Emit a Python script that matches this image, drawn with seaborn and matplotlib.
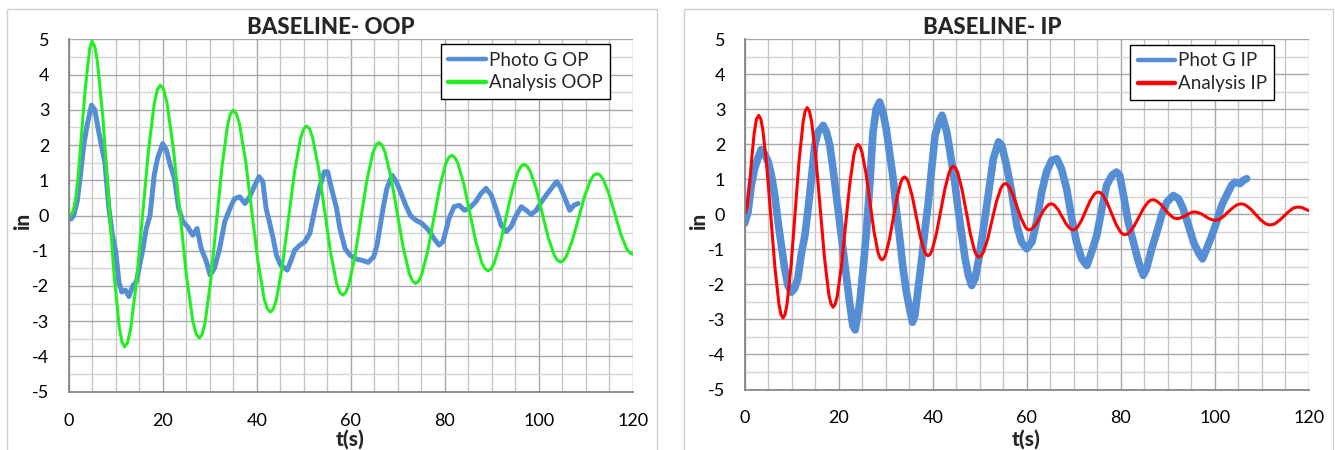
import matplotlib
matplotlib.use("Agg")
import matplotlib.pyplot as plt
from matplotlib import font_manager as fm
from matplotlib.ticker import MultipleLocator, FixedLocator
from matplotlib.patches import Rectangle
import seaborn as sns

# ---------------- data ----------------
# Left panel: Analysis OOP (green)
oop_an_t = [0, 0.5, 1.0, 1.5, 2.0, 2.5, 3.0, 3.5, 4.0, 4.5,
            4.95, 5.53, 6.11, 7.27, 8.43, 9.58, 10.74, 11.32,
            11.9, 12.53, 13.17, 14.43, 15.7, 16.97, 18.23, 18.87,
            19.5, 20.19, 20.88, 22.27, 23.65, 25.03, 26.42, 27.11,
            27.8, 28.4, 29.0, 30.2, 31.4, 32.6, 33.8, 34.4,
            35.0, 35.66, 36.32, 37.63, 38.95, 40.27, 41.58, 42.24,
            42.9, 43.54, 44.18, 45.47, 46.75, 48.03, 49.32, 49.96,
            50.6, 51.24, 51.88, 53.17, 54.45, 55.73, 57.02, 57.66,
            58.3, 58.94, 59.58, 60.87, 62.15, 63.43, 64.72, 65.36,
            66.0, 66.65, 67.3, 68.6, 69.9, 71.2, 72.5, 73.15,
            73.8, 74.44, 75.08, 76.37, 77.65, 78.93, 80.22, 80.86,
            81.5, 82.14, 82.78, 84.07, 85.35, 86.63, 87.92, 88.56,
            89.2, 89.84, 90.48, 91.77, 93.05, 94.33, 95.62, 96.26,
            96.9, 97.54, 98.18, 99.47, 100.75, 102.03, 103.32, 103.96,
            104.6, 105.25, 105.9, 107.2, 108.5, 109.8, 111.1, 111.75,
            112.4, 113.03, 113.67, 114.93, 116.2, 117.47, 118.73, 119.37, 120.0]
oop_an_y = [0, 0.02, 0.15, 0.5, 1.1, 1.9, 2.75, 3.55, 4.2, 4.75,
            4.95, 4.80, 4.37, 2.78, 0.61, -1.56, -3.15, -3.58,
            -3.73, -3.60, -3.23, -1.87, -0.02, 1.84, 3.2, 3.57,
            3.70, 3.58, 3.22, 1.9, 0.11, -1.69, -3.0, -3.36,
            -3.48, -3.37, -3.05, -1.86, -0.25, 1.37, 2.56, 2.88,
            2.99, 2.89, 2.61, 1.56, 0.13, -1.31, -2.36, -2.64,
            -2.74, -2.65, -2.39, -1.42, -0.10, 1.22, 2.19, 2.45,
            2.54, 2.46, 2.22, 1.34, 0.14, -1.06, -1.94, -2.18,
            -2.26, -2.19, -1.97, -1.18, -0.10, 0.99, 1.78, 2.0,
            2.07, 2.0, 1.80, 1.07, 0.07, -0.93, -1.66, -1.86,
            -1.93, -1.87, -1.69, -1.02, -0.11, 0.80, 1.47, 1.65,
            1.71, 1.65, 1.49, 0.89, 0.07, -0.75, -1.35, -1.51,
            -1.57, -1.52, -1.37, -0.82, -0.06, 0.70, 1.25, 1.40,
            1.45, 1.40, 1.26, 0.76, 0.07, -0.63, -1.13, -1.27,
            -1.32, -1.28, -1.15, -0.69, -0.07, 0.56, 1.02, 1.15,
            1.19, 1.15, 1.04, 0.62, 0.05, -0.53, -0.95, -1.06, -1.10]

# Left panel: Photo G OP (blue)
oop_ph_t = [0, 0.5, 1.06, 1.8, 2.5, 3.2, 3.9, 4.85, 5.56, 6.4, 7.1, 7.7,
            8.56, 9.3, 10.0, 10.7, 11.3, 12.1, 12.8, 13.7, 14.4, 15.1, 15.8,
            16.5, 17.3, 18.2, 18.9, 20.0, 20.8, 21.5, 22.5, 23.4, 24.3, 25.3,
            26.4, 27.3, 28.2, 29.3, 30.1, 31.0, 32.1, 33.2, 34.3, 35.3, 36.4,
            37.5, 38.5, 39.6, 40.5, 41.3, 42.0, 42.7, 43.5, 44.2, 45.1, 46.0,
            46.5, 47.2, 48.1, 49.2, 50.2, 51.3, 52.4, 53.5, 54.4, 55.1, 55.9,
            57.0, 57.7, 58.8, 59.9, 61.3, 62.4, 63.7, 64.9, 65.6, 66.3, 67.0,
            67.7, 68.8, 69.7, 70.6, 71.7, 72.7, 73.8, 75.2, 76.6, 77.7, 78.8,
            79.6, 80.2, 80.9, 82.0, 83.1, 84.2, 85.2, 86.6, 87.7, 88.8, 89.9,
            90.9, 92.0, 93.1, 94.1, 95.2, 96.3, 97.3, 98.4, 99.5, 100.6, 101.6,
            102.7, 103.8, 104.6, 105.6, 106.6, 107.5, 108.4]
oop_ph_y = [-0.07, -0.1, 0.0, 0.4, 1.15, 2.0, 2.55, 3.13, 3.0, 2.37, 1.9, 1.5,
            0.2, -0.56, -1.03, -1.9, -2.17, -2.12, -2.3, -1.98, -1.88, -1.41, -0.94,
            -0.37, 0.0, 1.15, 1.62, 2.04, 1.85, 1.48, 1.05, 0.2, -0.18, -0.32,
            -0.56, -0.37, -0.94, -1.31, -1.69, -1.5, -0.94, -0.18, 0.2, 0.48, 0.53,
            0.34, 0.53, 0.86, 1.1, 0.96, 0.2, -0.18, -0.65, -1.13, -1.41, -1.5,
            -1.55, -1.31, -0.98, -0.84, -0.75, -0.51, 0.2, 0.86, 1.24, 1.24, 0.77,
            0.2, -0.37, -0.94, -1.13, -1.24, -1.27, -1.33, -1.17, -0.84, -0.27, 0.29,
            0.77, 1.14, 0.96, 0.67, 0.29, 0.0, -0.13, -0.23, -0.42, -0.65, -0.84,
            -0.75, -0.46, -0.09, 0.25, 0.29, 0.15, 0.2, 0.39, 0.62, 0.77, 0.58,
            0.2, -0.27, -0.46, -0.32, 0.0, 0.25, 0.15, 0.03, 0.15, 0.39, 0.58,
            0.77, 0.96, 0.81, 0.48, 0.15, 0.29, 0.34]

# Right panel: Analysis IP (red)
ip_an_t = [0, 0.5, 1.0, 1.5, 2.0, 2.5,
           2.98, 3.41, 3.84, 4.70, 5.57, 6.43, 7.29, 7.72,
           8.15, 8.58, 9.01, 9.87, 10.73, 11.58, 12.44, 12.87,
           13.3, 13.76, 14.22, 15.13, 16.05, 16.97, 17.88, 18.34,
           18.8, 19.24, 19.68, 20.57, 21.45, 22.33, 23.22, 23.66,
           24.1, 24.53, 24.95, 25.8, 26.65, 27.5, 28.35, 28.78,
           29.2, 29.6, 30.0, 30.8, 31.6, 32.4, 33.2, 33.6,
           34.0, 34.42, 34.83, 35.67, 36.5, 37.33, 38.17, 38.58,
           39.0, 39.45, 39.9, 40.8, 41.7, 42.6, 43.5, 43.95,
           44.4, 44.85, 45.31, 46.22, 47.13, 48.03, 48.94, 49.4,
           49.85, 50.31, 50.78, 51.7, 52.63, 53.55, 54.48, 54.94,
           55.4, 55.83, 56.25, 57.1, 57.95, 58.8, 59.65, 60.08,
           60.5, 60.89, 61.28, 62.07, 62.85, 63.63, 64.42, 64.81,
           65.2, 65.59, 65.98, 66.77, 67.55, 68.33, 69.12, 69.51,
           69.9, 70.34, 70.78, 71.67, 72.55, 73.43, 74.32, 74.76,
           75.2, 75.68, 76.15, 77.1, 78.05, 79.0, 79.95, 80.43,
           80.9, 81.39, 81.88, 82.87, 83.85, 84.83, 85.82, 86.31,
           86.8, 87.23, 87.65, 88.5, 89.35, 90.2, 91.05, 91.48,
           91.9, 92.55, 93.2, 93.85, 94.5, 95.15,
           95.8, 96.52, 97.23, 97.95, 98.67, 99.38,
           100.1, 100.56, 101.02, 101.93, 102.85, 103.77, 104.68, 105.14,
           105.6, 106.12, 106.63, 107.67, 108.7, 109.73, 110.77, 111.28,
           111.8, 112.29, 112.78, 113.77, 114.75, 115.73, 116.72, 117.21,
           117.7, 118.5, 119.3, 120.0]
ip_an_y = [0, 0.2, 0.8, 1.6, 2.3, 2.72,
           2.83, 2.73, 2.44, 1.38, -0.07, -1.51, -2.57, -2.86,
           -2.96, -2.86, -2.56, -1.46, 0.05, 1.55, 2.65, 2.95,
           3.05, 2.95, 2.67, 1.63, 0.2, -1.23, -2.27, -2.55,
           -2.65, -2.57, -2.34, -1.49, -0.33, 0.84, 1.69, 1.92,
           2.0, 1.94, 1.78, 1.18, 0.35, -0.48, -1.08, -1.24,
           -1.30, -1.26, -1.14, -0.71, -0.12, 0.48, 0.91, 1.03,
           1.07, 1.03, 0.92, 0.51, -0.06, -0.62, -1.03, -1.14,
           -1.18, -1.14, -1.01, -0.54, 0.10, 0.73, 1.20, 1.33,
           1.37, 1.33, 1.20, 0.72, 0.08, -0.57, -1.05, -1.18,
           -1.22, -1.18, -1.08, -0.70, -0.17, 0.36, 0.74, 0.84,
           0.88, 0.86, 0.79, 0.55, 0.22, -0.11, -0.35, -0.42,
           -0.44, -0.43, -0.39, -0.26, -0.07, 0.12, 0.25, 0.29,
           0.30, 0.29, 0.25, 0.12, -0.07, -0.26, -0.39, -0.43,
           -0.44, -0.42, -0.37, -0.17, 0.10, 0.37, 0.57, 0.62,
           0.64, 0.62, 0.56, 0.34, 0.03, -0.28, -0.50, -0.56,
           -0.58, -0.56, -0.51, -0.33, -0.08, 0.17, 0.35, 0.40,
           0.42, 0.41, 0.38, 0.29, 0.15, 0.02, -0.08, -0.11,
           -0.12, -0.11, -0.07, -0.03, 0.02, 0.06,
           0.07, 0.05, 0.01, -0.05, -0.11, -0.15,
           -0.17, -0.16, -0.14, -0.05, 0.07, 0.18, 0.27, 0.29,
           0.30, 0.29, 0.26, 0.15, 0.0, -0.15, -0.26, -0.29,
           -0.30, -0.29, -0.27, -0.17, -0.05, 0.08, 0.18, 0.20,
           0.21, 0.2, 0.15, 0.11]

# Right panel: Phot G IP (blue)
ip_ph_t = [0, 0.7, 1.4, 2.1, 2.8, 3.5, 4.2, 5.0, 5.7, 6.4, 7.1, 7.8, 8.5,
           9.2, 9.9, 10.6, 11.3, 12.0, 12.8, 13.5, 14.2, 14.9, 15.6, 16.7,
           17.4, 18.1, 18.8, 19.5, 20.2, 20.9, 21.6, 22.3, 23.0, 23.5, 24.5,
           25.2, 25.9, 26.6, 27.3, 28.0, 28.7, 29.4, 30.1, 30.8, 31.6, 32.3,
           33.0, 33.7, 34.4, 35.1, 35.7, 36.2, 36.9, 37.6, 38.3, 39.0, 39.7,
           40.5, 41.6, 42.0, 43.0, 43.7, 44.7, 45.4, 46.2, 46.9, 47.6, 48.3,
           49.0, 49.7, 50.8, 51.8, 52.9, 54.0, 54.7, 55.7, 56.8, 57.9, 58.9,
           60.0, 61.1, 62.1, 63.2, 64.2, 65.3, 66.4, 67.4, 68.5, 69.6, 70.6,
           71.7, 72.8, 73.8, 74.9, 76.0, 77.0, 78.1, 79.1, 79.8, 80.6, 81.6,
           82.7, 83.8, 84.8, 85.5, 86.6, 87.7, 88.7, 89.8, 91.2, 92.3, 93.3,
           94.4, 95.5, 96.5, 97.4, 98.3, 99.4, 100.4, 101.5, 102.5, 103.6,
           104.3, 105.4, 106.1, 106.8]
ip_ph_y = [-0.25, 0.07, 0.83, 1.3, 1.6, 1.85, 1.73, 1.5, 1.11, 0.54, -0.22, -0.89, -1.55,
           -2.03, -2.22, -2.12, -1.84, -1.17, -0.6, 0.16, 1.02, 1.97, 2.35, 2.54,
           2.35, 1.97, 1.3, 0.54, -0.22, -0.98, -1.74, -2.5, -3.17, -3.3, -2.5,
           -1.55, -0.5, 0.83, 2.35, 3.02, 3.21, 2.92, 2.45, 1.78, 1.02, 0.07,
           -0.7, -1.55, -2.22, -2.7, -3.08, -2.89, -2.12, -1.36, -0.5, 0.26, 1.2,
           2.26, 2.73, 2.83, 2.35, 1.78, 0.92, 0.16, -0.6, -1.27, -1.74, -2.03,
           -1.84, -1.36, -0.41, 0.54, 1.59, 2.07, 1.97, 1.4, 0.64, -0.31, -0.79,
           -0.98, -0.79, -0.22, 0.64, 1.21, 1.54, 1.59, 1.3, 0.73, -0.12, -0.79,
           -1.27, -1.46, -1.08, -0.6, 0.16, 0.83, 1.11, 1.21, 1.11, 0.54, -0.22,
           -0.79, -1.36, -1.74, -1.55, -0.98, -0.5, -0.03, 0.35, 0.54, 0.45, 0.16,
           -0.31, -0.79, -1.08, -1.27, -0.98, -0.6, -0.22, 0.26, 0.54, 0.83,
           0.92, 0.88, 0.97, 1.02]

titles = ["BASELINE- OOP", "BASELINE- IP"]
legend_labels = [["Photo G OP", "Analysis OOP"], ["Phot G IP", "Analysis IP"]]
xticks = [0, 20, 40, 60, 80, 100, 120]
yticks = [-5, -4, -3, -2, -1, 0, 1, 2, 3, 4, 5]
xlabel = "t(s)"
ylabel = "in"

# ---------------- styling ----------------
sns.set_style("white")
plt.rcParams["font.family"] = ["Lato", "DejaVu Sans"]
plt.rcParams["axes.unicode_minus"] = False


def _best_bold():
    # prefer the heaviest Lato face available, else another bold sans
    for cand in ["Lato", "Open Sans", "Roboto", "Noto Sans", "Liberation Sans"]:
        ws = []
        for f in fm.fontManager.ttflist:
            if f.name == cand:
                w = f.weight
                if isinstance(w, str):
                    w = {"bold": 700, "heavy": 800, "black": 900,
                         "semibold": 600, "extra bold": 800}.get(w.lower(), 400)
                ws.append(w)
        if ws and max(ws) >= 700:
            return cand, max(ws)
    return "DejaVu Sans", 700


BOLD_FAMILY, BOLD_WEIGHT = _best_bold()
BOLD_WEIGHT = min(BOLD_WEIGHT, 900)

BLUE = "#558ed5"
GREEN = "#22ee22"
RED = "#ff0000"

W, H = 1335, 450
fig = plt.figure(figsize=(W / 100, H / 100), dpi=100)

# panel frames (chart areas)
for (x0, x1) in [(7, 657), (684, 1333)]:
    fig.patches.append(Rectangle((x0 / W, -0.05), (x1 - x0) / W, 1.05 - 9 / H,
                                 transform=fig.transFigure, fill=False,
                                 edgecolor="#d0d0d0", linewidth=1.0))

ax_boxes = [
    (68.7, 632.7, 39.3, 391.7),
    (744.7, 1308.7, 39.3, 389.5),
]

panels = [
    (oop_ph_t, oop_ph_y, BLUE, 3.6, oop_an_t, oop_an_y, GREEN, 2.2),
    (ip_ph_t, ip_ph_y, BLUE, 5.5, ip_an_t, ip_an_y, RED, 2.2),
]
title_x = [331, 992]
xlabel_x = [350, 1026]
ylabel_x = [23, 699]
leg_boxes = [(441, 616, 44, 97), (1130, 1271, 45, 98)]

for i, (xl, xr, yt, yb) in enumerate(ax_boxes):
    ax = fig.add_axes([xl / W, 1 - yb / H, (xr - xl) / W, (yb - yt) / H])
    pt, py, pc, plw, at, ay, ac, alw = panels[i]
    sns.lineplot(x=pt, y=py, ax=ax, color=pc, linewidth=plw,
                 label=legend_labels[i][0], estimator=None, sort=False)
    sns.lineplot(x=at, y=ay, ax=ax, color=ac, linewidth=alw,
                 label=legend_labels[i][1], estimator=None, sort=False)
    for ln in ax.get_lines():
        ln.set_solid_joinstyle("round")
        ln.set_solid_capstyle("round")
    ax.set_xlim(0, 120)
    ax.set_ylim(-5, 5)
    ax.xaxis.set_major_locator(FixedLocator(xticks))
    ax.yaxis.set_major_locator(FixedLocator(yticks))
    ax.xaxis.set_minor_locator(MultipleLocator(5))
    ax.yaxis.set_minor_locator(MultipleLocator(0.5))
    ax.set_xticklabels([str(v) for v in xticks])
    ax.set_yticklabels([str(v) for v in yticks])
    ax.grid(which="major", axis="y", color="#a6a6a6", linewidth=1.0)
    ax.grid(which="minor", axis="y", color="#d4d4d4", linewidth=1.0)
    ax.grid(which="major", axis="x", color="#a6a6a6", linewidth=1.0)
    ax.grid(which="minor", axis="x", color="#c4c4c4", linewidth=1.0)
    ax.set_axisbelow(True)
    for s in ["top", "right"]:
        ax.spines[s].set_visible(False)
    for s in ["left", "bottom"]:
        ax.spines[s].set_visible(True)
        ax.spines[s].set_color("#868686")
        ax.spines[s].set_linewidth(1.3)
    ax.tick_params(axis="both", which="major", direction="out", length=5,
                   width=1.0, color="#868686", labelsize=13,
                   labelcolor="black")
    ax.tick_params(axis="both", which="minor", length=0)
    ax.tick_params(axis="y", pad=9)
    ax.tick_params(axis="x", pad=10)
    ax.set_xlabel("")
    ax.set_ylabel("")
    lx0, lx1, ly0, ly1 = leg_boxes[i]
    leg = ax.legend(loc="upper left",
                    bbox_to_anchor=((lx0 - xl) / (xr - xl), 1 - (ly0 - yt) / (yb - yt)),
                    frameon=True, fancybox=False, fontsize=13.5, handlelength=2.0,
                    handletextpad=0.15, borderpad=0.4, labelspacing=0.3,
                    borderaxespad=0)
    leg.get_frame().set_edgecolor("black")
    leg.get_frame().set_linewidth(1.0)
    leg.get_frame().set_alpha(1.0)
    for ln in leg.get_lines():
        ln.set_linewidth(3.2)

    fig.text(title_x[i] / W, 1 - 28 / H, titles[i], ha="center", va="center",
             fontsize=16, fontweight=BOLD_WEIGHT, family=[BOLD_FAMILY, "DejaVu Sans"])
    fig.text(xlabel_x[i] / W, 1 - 439 / H, xlabel, ha="center", va="center",
             fontsize=15, fontweight=BOLD_WEIGHT, family=[BOLD_FAMILY, "DejaVu Sans"])
    fig.text(ylabel_x[i] / W, 1 - 221 / H, ylabel, ha="center", va="center",
             fontsize=15, fontweight=BOLD_WEIGHT, rotation=90,
             family=[BOLD_FAMILY, "DejaVu Sans"])

fig.savefig("out.png", dpi=100)
